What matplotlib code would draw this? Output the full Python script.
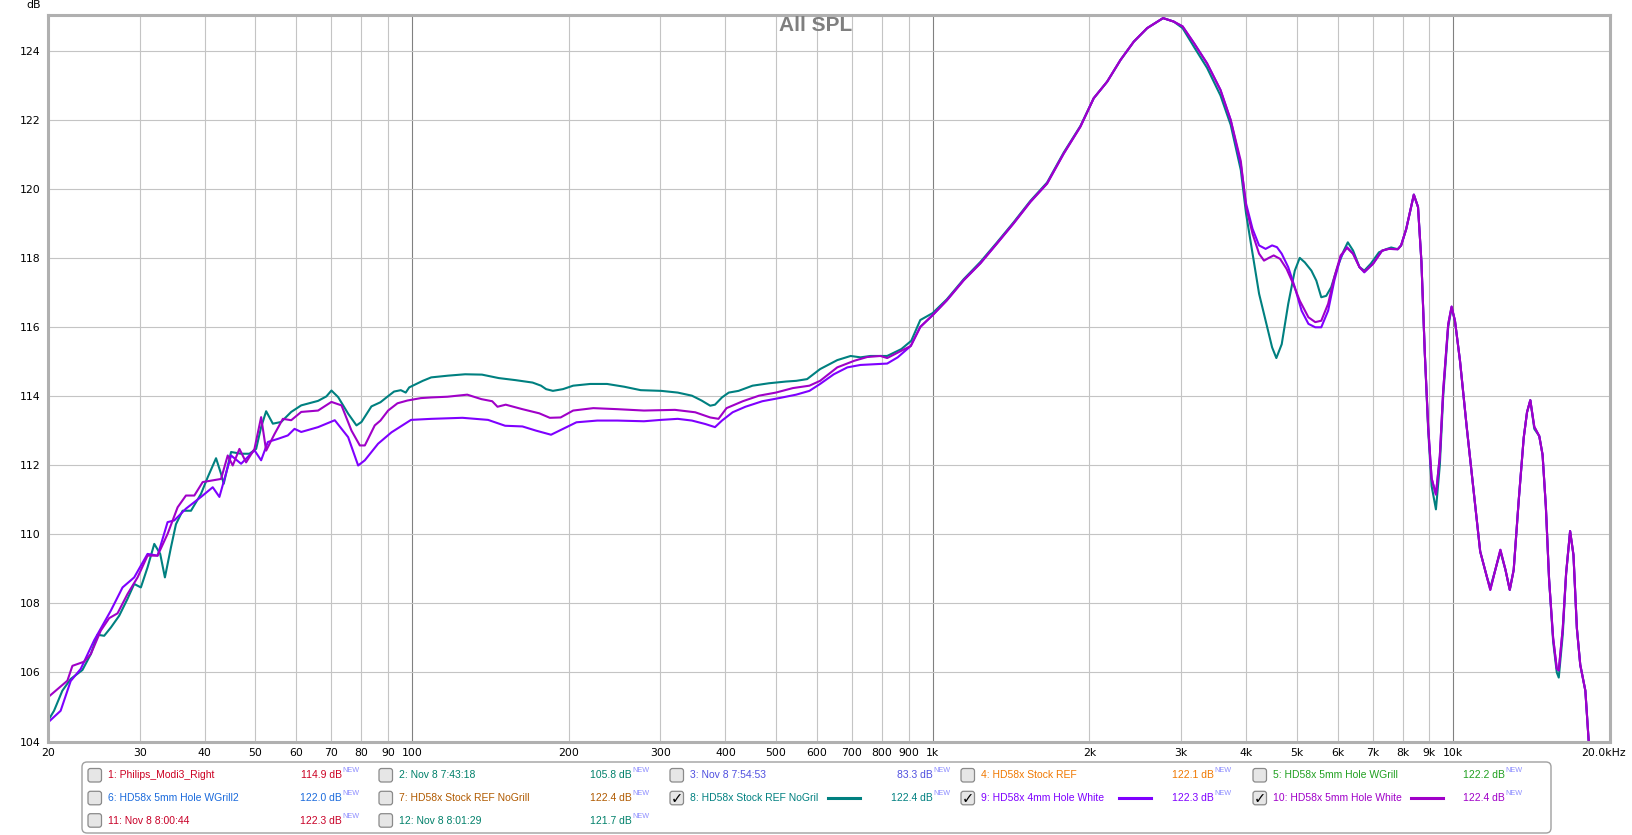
import matplotlib
matplotlib.use("Agg")
import matplotlib.pyplot as plt
from matplotlib.patches import FancyBboxPatch
from matplotlib.lines import Line2D
from matplotlib.ticker import NullLocator, FixedLocator, FixedFormatter
from matplotlib.transforms import IdentityTransform, ScaledTranslation

# ---------------- data (Hz, dB) ----------------
teal_lf = [(20.0, 104.6), (20.54, 104.89), (21.31, 105.47), (22.11, 105.81), (23.29, 106.07),
           (24.17, 106.53), (24.89, 107.09), (25.64, 107.06), (26.41, 107.3), (27.4, 107.64),
           (28.43, 108.13), (29.28, 108.56), (30.16, 108.46), (31.06, 109.04), (32.0, 109.72),
           (32.85, 109.43), (33.54, 108.75), (34.45, 109.62), (35.22, 110.29), (36.27, 110.68),
           (37.64, 110.68), (39.35, 111.17), (40.53, 111.65), (42.05, 112.2), (42.99, 111.75),
           (43.5, 111.46), (44.94, 112.38), (46.98, 112.33), (48.74, 112.33), (50.21, 112.47),
           (51.33, 113.1), (52.48, 113.56), (54.06, 113.2), (56.09, 113.25), (58.63, 113.54),
           (61.29, 113.73), (66.03, 113.86), (68.51, 113.99), (70.05, 114.16), (72.15, 113.97),
           (75.42, 113.49), (78.25, 113.15), (80.01, 113.25), (83.6, 113.7), (87.0, 113.82),
           (89.7, 113.98), (92.4, 114.13), (95.2, 114.17), (97.3, 114.1), (98.8, 114.25)]
teal_mid = [(101, 114.32), (104.9, 114.44), (108.9, 114.54), (117.3, 114.59), (126.5, 114.63),
            (136.3, 114.62), (146.8, 114.52), (158.2, 114.46), (170.5, 114.39), (177, 114.3),
            (181, 114.2), (186.5, 114.15), (195, 114.2), (204, 114.3), (220, 114.35),
            (237, 114.35), (255.6, 114.27), (275, 114.17), (301, 114.15), (324, 114.1),
            (345, 114.01), (360, 113.87), (374, 113.72), (382, 113.75), (394, 113.96),
            (406, 114.1), (424, 114.15), (451, 114.3), (485, 114.37), (523, 114.42),
            (547, 114.44), (574, 114.49), (608, 114.78), (656, 115.04), (696, 115.16),
            (727, 115.12), (760, 115.16), (818, 115.16), (871, 115.36), (910, 115.6),
            (947, 116.2), (1000, 116.4)]
teal_hi = [(1065, 116.8), (1147, 117.38), (1235, 117.88), (1330, 118.45), (1431, 119.03),
           (1541, 119.65), (1659, 120.18), (1786, 121.05), (1923, 121.82), (2039, 122.62),
           (2164, 123.1), (2296, 123.73), (2435, 124.26), (2583, 124.65), (2771, 124.94),
           (2904, 124.84), (3021, 124.65), (3179, 124.1), (3366, 123.5), (3572, 122.7),
           (3737, 121.85), (3908, 120.54), (4000, 119.28), (4116, 118.12), (4237, 116.96),
           (4361, 116.18), (4488, 115.41), (4573, 115.1), (4683, 115.5), (4820, 116.67),
           (4962, 117.63), (5072, 118.0), (5186, 117.87), (5340, 117.63), (5458, 117.34),
           (5578, 116.86), (5702, 116.9), (5828, 117.15), (5992, 117.73), (6162, 118.21),
           (6273, 118.45), (6421, 118.21), (6606, 117.73), (6747, 117.63), (6943, 117.83),
           (7199, 118.16)]
teal_top = [(7428, 118.25), (7600, 118.3), (7824, 118.25), (7940, 118.36), (8120, 118.83),
            (8250, 119.3), (8400, 119.83), (8557, 119.47), (8687, 117.88), (8818, 115.23),
            (8951, 113.0), (9086, 111.4), (9262, 110.72), (9423, 112.0), (9565, 114.0),
            (9779, 116.0), (9926, 116.55), (10075, 116.18), (10302, 115.02), (10613, 113.1),
            (10934, 111.3), (11265, 109.5), (11605, 108.76), (11779, 108.45), (12045, 108.97),
            (12317, 109.5), (12596, 108.97), (12838, 108.39), (13064, 108.97), (13357, 110.98),
            (13655, 112.79), (13856, 113.53), (14060, 113.88), (14310, 113.05), (14628, 112.84),
            (14843, 112.3), (15060, 110.8), (15276, 108.7), (15552, 106.9), (15806, 106.0),
            (15945, 105.85), (16230, 107.1), (16472, 108.87), (16765, 110.09), (17016, 109.4),
            (17274, 107.28), (17535, 106.22), (17935, 105.47), (18205, 103.99)]

violet_lf = [(20.0, 104.55), (21.15, 104.89), (22.11, 105.75), (23.11, 106.1), (24.53, 106.93),
             (26.41, 107.79), (27.81, 108.46), (29.28, 108.75), (31.06, 109.43), (32.47, 109.38),
             (33.94, 110.35), (34.96, 110.4), (36.81, 110.74), (39.35, 111.08), (41.44, 111.36),
             (42.68, 111.08), (44.94, 112.28), (46.98, 112.04), (49.84, 112.43), (51.33, 112.14),
             (52.87, 112.67), (55.27, 112.76), (57.77, 112.86), (59.5, 113.05), (61.29, 112.96),
             (66.03, 113.1), (71.09, 113.3), (75.42, 112.81), (78.83, 111.99), (81.2, 112.14),
             (86.1, 112.62), (91.36, 112.95)]
violet_mid = [(99.6, 113.31), (109, 113.34), (125, 113.37), (140, 113.31), (151, 113.14),
              (163, 113.12), (173, 113.0), (185, 112.88), (195, 113.05), (207, 113.24),
              (227, 113.29), (248, 113.29), (279, 113.27), (301, 113.31), (324, 113.34),
              (345, 113.29), (366, 113.19), (382, 113.1), (394, 113.29), (413, 113.53),
              (437, 113.69), (471, 113.85), (507, 113.94), (547, 114.04), (580, 114.15),
              (608, 114.35), (646, 114.63), (686, 114.83), (727, 114.9), (771, 114.92),
              (818, 114.94), (857, 115.12), (908, 115.45), (947, 116.0), (1000, 116.34)]

magenta_lf = [(20.0, 105.28), (21.79, 105.76), (22.28, 106.19), (23.46, 106.31), (24.17, 106.53),
              (25.26, 107.21), (26.21, 107.57), (27.2, 107.71), (28.43, 108.27), (29.72, 108.75),
              (31.06, 109.38), (32.47, 109.38), (33.94, 110.01), (35.48, 110.78), (36.81, 111.12),
              (38.2, 111.12), (39.64, 111.51), (41.44, 111.56), (42.99, 111.6), (44.28, 112.28),
              (45.27, 111.99), (46.63, 112.47), (48.03, 112.08), (49.84, 112.47), (51.33, 113.39),
              (52.48, 112.42), (54.46, 112.9), (56.51, 113.34), (58.63, 113.3), (61.29, 113.54),
              (66.03, 113.58), (70.05, 113.83), (73.23, 113.73), (76.54, 113.0), (79.42, 112.57),
              (81.2, 112.57), (84.84, 113.15)]
magenta_mid = [(87.0, 113.29), (90, 113.58), (93.8, 113.79), (98, 113.87), (104, 113.94),
               (109, 113.96), (117, 113.98), (127.7, 114.04), (136, 113.91), (142.6, 113.85),
               (146, 113.69), (151.4, 113.75), (163, 113.62), (175.6, 113.5), (184, 113.37),
               (193, 113.38), (204, 113.58), (223, 113.65), (248, 113.62), (279, 113.58),
               (320, 113.6), (350, 113.53), (374, 113.38), (388, 113.34), (402, 113.65),
               (432, 113.85), (464, 114.01), (500, 114.1), (539, 114.23), (580, 114.3),
               (608, 114.44), (656, 114.83), (707, 115.02), (749, 115.13), (794, 115.16),
               (818, 115.1), (871, 115.31), (908, 115.45), (947, 116.0), (1000, 116.34)]

shared_rise = [(1065, 116.77), (1147, 117.35), (1235, 117.84), (1330, 118.42), (1431, 119.0),
               (1541, 119.62), (1659, 120.15), (1786, 121.02), (1923, 121.8), (2039, 122.62),
               (2164, 123.1), (2296, 123.73), (2435, 124.26), (2583, 124.65), (2771, 124.94),
               (2904, 124.84), (3021, 124.7), (3179, 124.21), (3366, 123.63), (3572, 122.86),
               (3737, 121.99)]

violet_dip = [(3908, 120.7), (4000, 119.57), (4116, 118.84), (4237, 118.36), (4361, 118.26),
              (4488, 118.36), (4585, 118.31), (4683, 118.12), (4820, 117.73), (4962, 117.15),
              (5113, 116.47), (5270, 116.09), (5432, 115.99), (5578, 115.99), (5750, 116.47),
              (5909, 117.34), (6077, 118.02), (6250, 118.31), (6421, 118.12), (6606, 117.73),
              (6747, 117.58), (7015, 117.83)]
magenta_dip = [(3908, 120.8), (4000, 119.47), (4116, 118.7), (4237, 118.12), (4330, 117.92),
               (4425, 118.0), (4520, 118.07), (4650, 117.97), (4785, 117.68), (4926, 117.25),
               (5072, 116.76), (5270, 116.28), (5432, 116.14), (5578, 116.18), (5750, 116.67),
               (5909, 117.44), (6077, 118.07), (6250, 118.29), (6421, 118.12), (6606, 117.73),
               (6747, 117.6), (7015, 117.83)]

shared_top = [(7300, 118.21), (7520, 118.26), (7824, 118.25), (7940, 118.36), (8120, 118.83),
              (8250, 119.3), (8400, 119.83), (8557, 119.47), (8687, 117.88), (8818, 115.23),
              (8951, 113.1), (9086, 111.62), (9262, 111.15), (9423, 112.26), (9565, 114.17),
              (9779, 116.08), (9926, 116.59), (10075, 116.18), (10302, 115.02), (10613, 113.1),
              (10934, 111.3), (11265, 109.5), (11605, 108.76), (11779, 108.39), (12045, 108.97),
              (12317, 109.55), (12596, 108.97), (12838, 108.39), (13064, 108.97), (13357, 110.98),
              (13655, 112.79), (13856, 113.53), (14060, 113.88), (14310, 113.11), (14628, 112.84),
              (14843, 112.3), (15060, 110.8), (15276, 108.7), (15552, 107.0), (15806, 106.11),
              (15945, 106.06), (16230, 107.28), (16472, 108.87), (16765, 110.09), (17016, 109.4),
              (17274, 107.28), (17535, 106.22), (17935, 105.47), (18205, 103.99)]

series_colors = {"teal": "#008080", "violet": "#7f00ff", "magenta": "#a000c8"}

# legend entries
legend_names = ["1: Philips_Modi3_Right", "2: Nov 8 7:43:18", "3: Nov 8 7:54:53", "4: HD58x Stock REF",
                "5: HD58x 5mm Hole WGrill", "6: HD58x 5mm Hole WGrill2", "7: HD58x Stock REF NoGrill",
                "8: HD58x Stock REF NoGril", "9: HD58x 4mm Hole White", "10: HD58x 5mm Hole White",
                "11: Nov 8 8:00:44", "12: Nov 8 8:01:29"]
legend_values = ["114.9", "105.8", "83.3", "122.1", "122.2", "122.0", "122.4", "122.4", "122.3",
                 "122.4", "122.3", "121.7"]
legend_colors = ["#cc0022", "#00806a", "#5050e0", "#f07800", "#20a020", "#1a6adc", "#b05a00",
                 "#008080", "#7f00ff", "#a000c8", "#c80028", "#00806a"]
legend_checked = [False] * 7 + [True, True, True] + [False, False]

x_ticks = [20, 30, 40, 50, 60, 70, 80, 90, 100, 200, 300, 400, 500, 600, 700, 800, 900,
           1000, 2000, 3000, 4000, 5000, 6000, 7000, 8000, 9000, 10000, 20000]
x_labels = ["20", "30", "40", "50", "60", "70", "80", "90", "100", "200", "300", "400", "500",
            "600", "700", "800", "900", "1k", "2k", "3k", "4k", "5k", "6k", "7k", "8k", "9k",
            "10k", "20.0kHz"]
y_ticks = [104, 106, 108, 110, 112, 114, 116, 118, 120, 122, 124]

# ---------------- figure ----------------
W, H = 1633, 835
fig = plt.figure(figsize=(W / 100, H / 100), dpi=100)
fig.patch.set_facecolor("white")


def fx(x):
    return x / W


def fy(y):
    return 1 - y / H


ax = fig.add_axes([fx(48), fy(741.5), (1610 - 48) / W, (741.5 - 15) / H])
ax.set_xscale("log")
ax.set_xlim(20, 20000)
ax.set_ylim(104, 125.03)

for f in x_ticks[1:-1]:
    dec = f in (100, 1000, 10000)
    ax.axvline(f, color="#808080" if dec else "#c4c4c4", lw=0.8, zorder=1)
for v in y_ticks[1:]:
    ax.axhline(v, color="#c4c4c4", lw=0.8, zorder=1)

ax.xaxis.set_major_locator(FixedLocator(x_ticks))
ax.xaxis.set_major_formatter(FixedFormatter(x_labels))
ax.xaxis.set_minor_locator(NullLocator())
ax.set_yticks(y_ticks)
ax.set_yticklabels([str(v) for v in y_ticks])
ax.tick_params(axis="both", length=0, labelsize=7.8, colors="black")
ax.tick_params(axis="x", pad=4.5)
ax.tick_params(axis="y", pad=5.5)
for s in ax.spines.values():
    s.set_color("#b0b0b0")
    s.set_linewidth(2.2)
    s.set_zorder(5)

# shift the last x label ("20.0kHz") a little left, as in the reference
fig.canvas.draw()
last = ax.get_xticklabels()[-1]
last.set_transform(last.get_transform() + ScaledTranslation(-6 / 100, 0, fig.dpi_scale_trans))


def unzip(*parts):
    pts = [p for part in parts for p in part]
    return [p[0] for p in pts], [p[1] for p in pts]


tf, td = unzip(teal_lf, teal_mid, teal_hi, teal_top)
vf, vd = unzip(violet_lf, violet_mid, shared_rise, violet_dip, shared_top)
mf, md = unzip(magenta_lf, magenta_mid, shared_rise, magenta_dip, shared_top)
ax.plot(tf, td, color=series_colors["teal"], lw=1.5, zorder=3)
ax.plot(vf, vd, color=series_colors["violet"], lw=1.5, zorder=3)
ax.plot(mf, md, color=series_colors["magenta"], lw=1.5, zorder=4)

# title and unit
fig.text(fx(815.5), fy(25.5), "All SPL", ha="center", va="center", fontsize=15,
         fontweight="bold", family="Liberation Sans", color="#7f7f7f")
fig.text(fx(41), fy(5.5), "dB", ha="right", va="center", fontsize=7.8, color="black")

# ---------------- legend box ----------------
ident = IdentityTransform()
box = FancyBboxPatch((82, H - 833), 1551 - 82, 833 - 762,
                     boxstyle="round,pad=0,rounding_size=5", transform=ident,
                     facecolor="white", edgecolor="#a0a0a0", lw=1.0)
fig.add_artist(box)

col_box_x = [88, 379, 670, 961, 1253]
col_val_right = [342, 632, 933, 1214, 1505]
row_y = [775.5, 798.3, 820.7]
line_colors = {7: series_colors["teal"], 8: series_colors["violet"], 9: series_colors["magenta"]}

for i, name in enumerate(legend_names):
    r, c = divmod(i, 5)
    yc = row_y[r]
    bx = col_box_x[c]
    cb = FancyBboxPatch((bx, H - (yc + 6.5)), 13.5, 13.5,
                        boxstyle="round,pad=0,rounding_size=2.5", transform=ident,
                        facecolor="#e6e6e6", edgecolor="#8a8a8a", lw=0.9)
    fig.add_artist(cb)
    if legend_checked[i]:
        fig.text(fx(bx + 7), fy(yc + 0.5), "\u2713", ha="center", va="center",
                 fontsize=10.5, fontweight="bold", color="black", family="DejaVu Sans")
    col = legend_colors[i]
    fig.text(fx(bx + 20), fy(yc), name, ha="left", va="center", fontsize=7.5,
             family="Liberation Sans", color=col)
    fig.text(fx(col_val_right[c]), fy(yc), legend_values[i] + " dB", ha="right", va="center",
             fontsize=7.5, family="Liberation Sans", color=col)
    fig.text(fx(col_val_right[c] + 0.5), fy(yc - 4.5), "NEW", ha="left", va="center",
             fontsize=5.2, family="Liberation Sans", color="#8c8cff")
    if i in line_colors:
        x0 = bx + 158
        fig.add_artist(Line2D([fx(x0), fx(x0 + 32)], [fy(yc), fy(yc)],
                              transform=fig.transFigure, color=line_colors[i], lw=2.2))

fig.savefig("out.png", dpi=100, facecolor="white")
